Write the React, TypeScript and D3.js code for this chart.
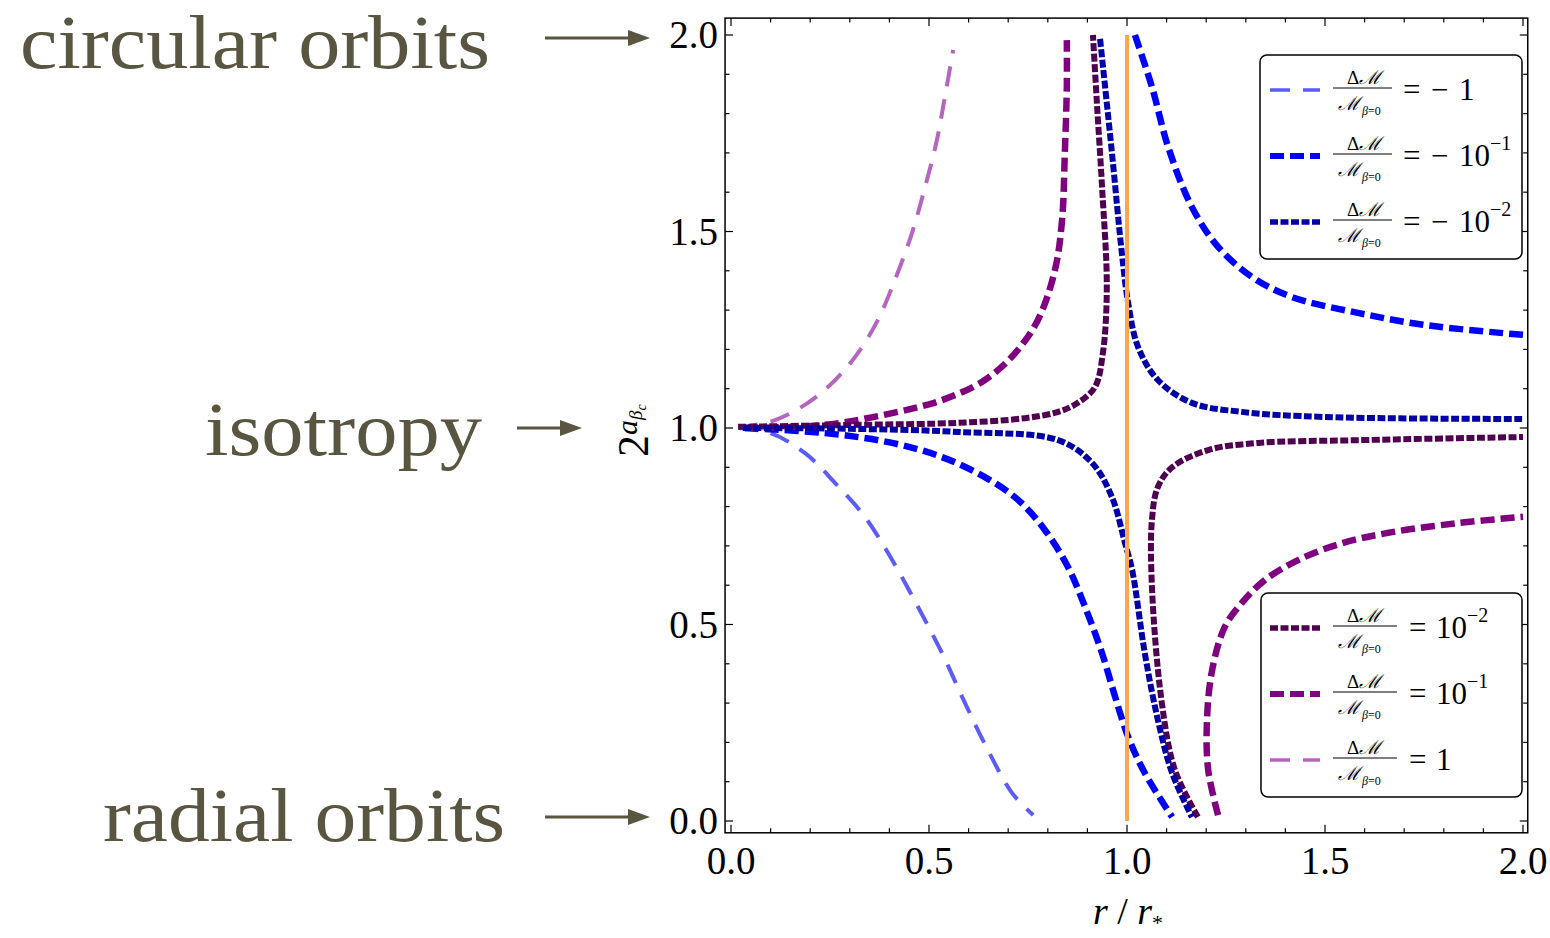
import * as d3 from 'd3';

// curve samples, [r/r*, 2^a]
const negOne: [number, number][] = [
  [0.018, 1.0], [0.1, 0.987], [0.187, 0.936], [0.263, 0.86], [0.338, 0.774], [0.407, 0.664],
  [0.472, 0.545], [0.533, 0.427], [0.591, 0.3], [0.649, 0.18], [0.71, 0.071], [0.763, 0.015],
];
const negTenthLeft: [number, number][] = [
  [0.035, 1.0], [0.237, 0.987], [0.407, 0.962], [0.533, 0.926], [0.641, 0.875], [0.725, 0.817],
  [0.793, 0.74], [0.851, 0.646], [0.894, 0.545], [0.937, 0.427], [0.97, 0.316], [1.003, 0.214],
  [1.045, 0.122], [1.114, 0.01],
];
const negTenthRight: [number, number][] = [
  [1.02, 2.0], [1.063, 1.868], [1.104, 1.715], [1.164, 1.562], [1.23, 1.461], [1.316, 1.384],
  [1.417, 1.333], [1.583, 1.293], [1.753, 1.262], [2.0, 1.237],
];
const negHundredthLeft: [number, number][] = [
  [0.03, 1.0], [0.3, 0.998], [0.573, 0.99], [0.826, 0.969], [0.912, 0.911], [0.962, 0.824],
  [0.995, 0.707], [1.013, 0.639], [1.045, 0.427], [1.078, 0.257], [1.114, 0.122], [1.164, 0.01],
];
const negHundredthRight: [number, number][] = [
  [0.932, 1.99], [0.962, 1.7], [0.987, 1.445], [1.003, 1.318], [1.028, 1.206], [1.078, 1.122],
  [1.164, 1.064], [1.29, 1.041], [1.5, 1.028], [2.0, 1.023],
];
const posHundredthLeft: [number, number][] = [
  [0.018, 1.003], [0.32, 1.008], [0.573, 1.013], [0.742, 1.025], [0.826, 1.041], [0.876, 1.064],
  [0.919, 1.104], [0.939, 1.19], [0.949, 1.359], [0.937, 1.613], [0.924, 1.827], [0.914, 2.0],
];
const posHundredthRight: [number, number][] = [
  [1.179, 0.01], [1.121, 0.13], [1.088, 0.3], [1.063, 0.595], [1.063, 0.766], [1.078, 0.85],
  [1.114, 0.9], [1.205, 0.944], [1.331, 0.962], [1.583, 0.969], [2.0, 0.977],
];
const posTenthLeft: [number, number][] = [
  [0.035, 1.0], [0.237, 1.008], [0.407, 1.038], [0.533, 1.071], [0.641, 1.122], [0.717, 1.19],
  [0.775, 1.275], [0.818, 1.402], [0.836, 1.529], [0.843, 1.7], [0.848, 1.868], [0.848, 1.987],
];
const posTenthRight: [number, number][] = [
  [1.23, 0.015], [1.205, 0.13], [1.202, 0.257], [1.215, 0.384], [1.247, 0.494], [1.29, 0.555],
  [1.348, 0.613], [1.432, 0.664], [1.543, 0.707], [1.669, 0.735], [1.836, 0.758], [2.0, 0.774],
];
const posOne: [number, number][] = [
  [0.018, 1.0], [0.111, 1.02], [0.194, 1.064], [0.263, 1.122], [0.32, 1.19], [0.371, 1.275],
  [0.414, 1.377], [0.457, 1.496], [0.49, 1.613], [0.52, 1.733], [0.54, 1.842], [0.561, 1.962],
];
const boundary: [number, number][] = [[1, 0], [1, 2]];

const xTicks = [0, 0.5, 1, 1.5, 2];
const yTicks = [0, 0.5, 1, 1.5, 2];

const topLegend = [
  { key: 'n1', value: '1', sup: '' },
  { key: 'n01', value: '10', sup: '−1' },
  { key: 'n001', value: '10', sup: '−2' },
];
const bottomLegend = [
  { key: 'p001', value: '10', sup: '−2' },
  { key: 'p01', value: '10', sup: '−1' },
  { key: 'p1', value: '1', sup: '' },
];

const styles: Record<string, { color: string; width: number; dash: string }> = {
  n1: { color: '#5b5bff', width: 4, dash: '20 13' },
  n01: { color: '#0000ff', width: 6.5, dash: '14 6' },
  n001: { color: '#0000a6', width: 6, dash: '8 2.5' },
  p001: { color: '#4f0050', width: 6, dash: '8 2.5' },
  p01: { color: '#80007f', width: 6.5, dash: '14 6' },
  p1: { color: '#b565c0', width: 4, dash: '20 13' },
};

const curves: { key: string; pts: [number, number][] }[] = [
  { key: 'n1', pts: negOne },
  { key: 'p1', pts: posOne },
  { key: 'n01', pts: negTenthLeft },
  { key: 'n01', pts: negTenthRight },
  { key: 'p01', pts: posTenthLeft },
  { key: 'p01', pts: posTenthRight },
  { key: 'p001', pts: posHundredthLeft },
  { key: 'p001', pts: posHundredthRight },
  { key: 'n001', pts: negHundredthLeft },
  { key: 'n001', pts: negHundredthRight },
];

const annotations = [
  { text: 'circular orbits', x: 20, y: 68, len: 470, ax0: 545, ax1: 650, ay: 38 },
  { text: 'isotropy', x: 205, y: 455, len: 277, ax0: 517, ax1: 582, ay: 428 },
  { text: 'radial orbits', x: 103, y: 841, len: 402, ax0: 545, ax1: 650, ay: 817 },
];

const olive = '#595540';
const serif = '"Liberation Serif", "DejaVu Serif", serif';

export default function App() {
  const x = d3.scaleLinear().domain([0, 2]).range([731, 1523]);
  const y = d3.scaleLinear().domain([0, 2]).range([821, 35]);
  const left = x(-0.015);
  const right = x(2.012);
  const top = y(2.043);
  const bottom = y(-0.03);

  const line = d3
    .line<[number, number]>()
    .x((d) => x(d[0]))
    .y((d) => y(d[1]))
    .curve(d3.curveCatmullRom.alpha(0.5));

  const minorX = d3.range(0, 2.001, 0.1);
  const minorY = d3.range(0, 2.001, 0.1);
  const isMajor = (v: number) => Math.abs(v * 2 - Math.round(v * 2)) < 1e-6;

  const legendRow = (
    item: { key: string; value: string; sup: string },
    i: number,
    x0: number,
    y0: number,
    neg: boolean,
  ) => {
    const st = styles[item.key];
    const cy = y0 + i * 66;
    const eqX = neg ? 1403 : 1409;
    const valX = neg ? 1459 : 1436;
    return (
      <g key={item.key}>
        <line x1={x0} x2={x0 + 50} y1={cy} y2={cy} stroke={st.color} strokeWidth={st.width - 0.5} strokeDasharray={st.dash} />
        <line x1={1333} x2={neg ? 1392 : 1397} y1={cy - 2} y2={cy - 2} stroke="#000" strokeWidth={1.2} />
        <text x={1364} y={cy - 6} textAnchor="middle" fontFamily={serif} fontSize={19}>
          Δ<tspan fontStyle="italic">ℳ</tspan>
        </text>
        <text x={1338} y={cy + 20} fontFamily={serif} fontSize={19}>
          <tspan fontStyle="italic">ℳ</tspan>
          <tspan fontSize={12} dy={5} dx={2}><tspan fontStyle="italic">β</tspan>=0</tspan>
        </text>
        <text x={eqX} y={cy + 10} fontFamily={serif} fontSize={31}>=</text>
        {neg && <text x={1431} y={cy + 10} fontFamily={serif} fontSize={31}>−</text>}
        <text x={valX} y={cy + 10} fontFamily={serif} fontSize={31}>
          {item.value}
          {item.sup && <tspan fontSize={20} dy={-16}>{item.sup}</tspan>}
        </text>
      </g>
    );
  };

  return (
    <svg width={1550} height={938} style={{ position: 'absolute', left: 0, top: 0, background: '#fff' }}>
      {/* left annotations */}
      {annotations.map((a) => (
        <g key={a.text}>
          <text x={a.x} y={a.y} fontFamily={serif} fontSize={76} fill={olive} textLength={a.len} lengthAdjust="spacingAndGlyphs">
            {a.text}
          </text>
          <line x1={a.ax0} x2={a.ax1 - 18} y1={a.ay} y2={a.ay} stroke={olive} strokeWidth={3} />
          <path d={`M${a.ax1},${a.ay} L${a.ax1 - 22},${a.ay - 8} L${a.ax1 - 22},${a.ay + 8} Z`} fill={olive} />
        </g>
      ))}

      {/* curves */}
      <g fill="none">
        {curves.map((c, i) => {
          const st = styles[c.key];
          return (
            <path key={i} d={line(c.pts) ?? ''} stroke={st.color} strokeWidth={st.width} strokeDasharray={st.dash} />
          );
        })}
        <path d={line(boundary) ?? ''} stroke="#ffa64d" strokeWidth={4} />
      </g>

      {/* frame + ticks */}
      <rect x={left} y={top} width={right - left} height={bottom - top} fill="none" stroke="#000" strokeWidth={1.5} />
      <g stroke="#000" strokeWidth={1.2}>
        {minorX.map((v) => {
          const len = isMajor(v) ? 8 : 4.5;
          return (
            <g key={'x' + v}>
              <line x1={x(v)} x2={x(v)} y1={bottom} y2={bottom - len} />
              <line x1={x(v)} x2={x(v)} y1={top} y2={top + len} />
            </g>
          );
        })}
        {minorY.map((v) => {
          const len = isMajor(v) ? 8 : 4.5;
          return (
            <g key={'y' + v}>
              <line x1={left} x2={left + len} y1={y(v)} y2={y(v)} />
              <line x1={right} x2={right - len} y1={y(v)} y2={y(v)} />
            </g>
          );
        })}
      </g>
      <g fontFamily={serif} fontSize={39}>
        {xTicks.map((v) => (
          <text key={'xl' + v} x={x(v)} y={874} textAnchor="middle">
            {v.toFixed(1)}
          </text>
        ))}
        {yTicks.map((v) => (
          <text key={'yl' + v} x={718} y={y(v) + 13} textAnchor="end">
            {v.toFixed(1)}
          </text>
        ))}
      </g>

      {/* axis labels */}
      <text x={1128} y={924} textAnchor="middle" fontFamily={serif} fontSize={38} fontStyle="italic">
        r<tspan fontStyle="normal"> / </tspan>r<tspan fontSize={22} dy={6} fontStyle="normal">*</tspan>
      </text>
      <text transform="translate(648,457) rotate(-90)" fontFamily={serif}>
        <tspan fontSize={44}>2</tspan>
        <tspan fontSize={30} fontStyle="italic" dy={-11}>a</tspan>
        <tspan fontSize={19} fontStyle="italic" dy={5}>β</tspan>
        <tspan fontSize={14} fontStyle="italic" dy={4}>c</tspan>
      </text>

      {/* legends */}
      <rect x={1260} y={55} width={262} height={204} rx={7} fill="#fff" stroke="#000" strokeWidth={1.5} />
      {topLegend.map((it, i) => legendRow(it, i, 1270, 90, true))}
      <rect x={1261} y={593} width={261} height={204} rx={7} fill="#fff" stroke="#000" strokeWidth={1.5} />
      {bottomLegend.map((it, i) => legendRow(it, i, 1270, 628, false))}
    </svg>
  );
}
